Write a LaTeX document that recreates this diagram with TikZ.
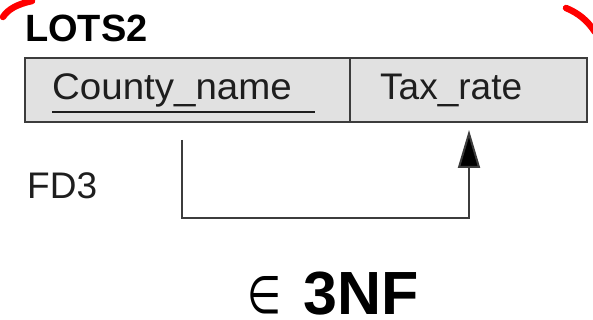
\documentclass[tikz,border=0pt]{standalone}
\usepackage{fontspec}
\setmainfont{Liberation Sans}
\newfontfamily\symbolfont{DejaVu Sans}
\usetikzlibrary{arrows.meta}
\definecolor{cellfill}{RGB}{225,225,225}
\definecolor{cellline}{RGB}{60,60,60}
\definecolor{inkgray}{RGB}{30,30,30}
\begin{document}
\begin{tikzpicture}[x=1pt,y=1pt,
  cell/.style={draw=cellline, line width=2pt, fill=cellfill, rectangle,
    minimum height=64pt, inner sep=0pt, anchor=north west},
  attr/.style={font=\fontsize{37}{40}\selectfont, text=inkgray, inner sep=0pt, anchor=base west},
  fdline/.style={draw=cellline, line width=2pt},
  penstroke/.style={draw=red, line width=6.5pt, line cap=round}]
\useasboundingbox (0,0) rectangle (593,-320);

% relation name
\node[font=\bfseries\fontsize{38}{42}\selectfont, text=black, inner sep=0pt, anchor=base west]
  (rel) at (25,-42) {LOTS2};

% attribute cells
\node[cell, minimum width=325pt] (cn) at (24,-57) {};
\node[cell, minimum width=237pt] (tx) at (349,-57) {};
\node[attr] (cnt) at (52,-100) {\scalebox{1.04}[1]{County\_name}};
\node[attr] (txt) at (380,-100) {Tax\_rate};
\draw[draw=inkgray, line width=2pt] (52,-112) coordinate (ul1) -- (315,-112) coordinate (ul2);

% functional dependency
\node[attr] (fd) at (27,-199) {FD3};
\coordinate (src) at (182,-140);
\coordinate (dst) at (469,-130);
\draw[fdline, -{Triangle[width=22pt,length=38pt,fill=black]}]
  (src) -- (182,-218) -| (dst);

% normal form statement
\node[inner sep=0pt, anchor=south west, text=black] (elem) at (247,-314)
  {\resizebox{34pt}{37pt}{\symbolfont ∈}};
\node[font=\bfseries\fontsize{61}{64}\selectfont, text=black, inner sep=0pt, anchor=base west]
  (nf) at (303,-314) {3NF};

% red pen strokes at the top corners
\draw[penstroke] (3,-17) .. controls (8,-9) and (18,-4) .. (32,-1);
\draw[penstroke] (566,-8) .. controls (578,-13) and (587,-20) .. (595,-32);
\end{tikzpicture}
\end{document}
